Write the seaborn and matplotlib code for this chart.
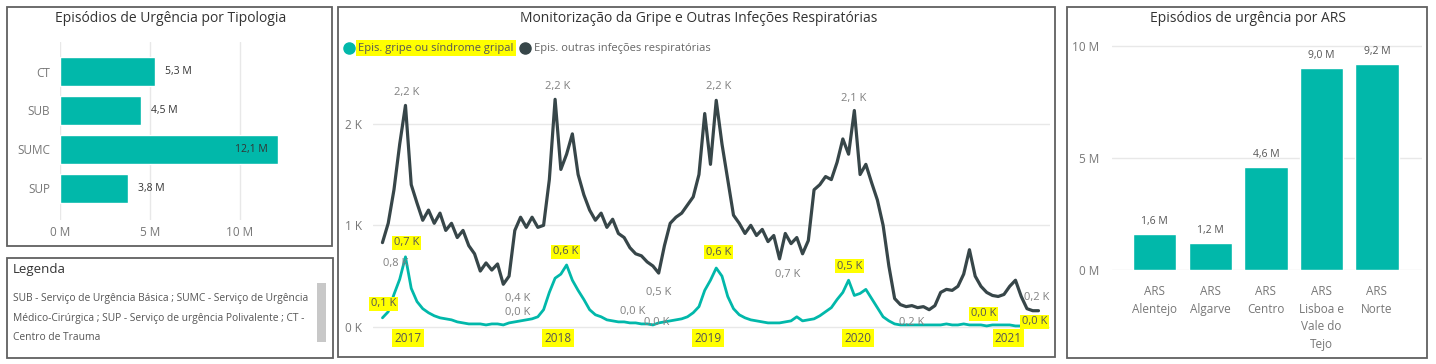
import numpy as np
import pandas as pd
import matplotlib
matplotlib.use("Agg")
import matplotlib.pyplot as plt
import seaborn as sns
from matplotlib.patches import Rectangle
from matplotlib.lines import Line2D

# ---------------- data ----------------
tipologia = ["CT", "SUB", "SUMC", "SUP"]
tipologia_m = [5.3, 4.5, 12.1, 3.8]
tipologia_ticks = [0, 5, 10]

ars = ["ARS\nAlentejo", "ARS\nAlgarve", "ARS\nCentro", "ARS\nLisboa e\nVale do\nTejo", "ARS\nNorte"]
ars_m = [1.6, 1.2, 4.6, 9.0, 9.2]
ars_ticks = [0, 5, 10]

# fortnightly values (thousands), starting 2016-10-31
series_start = "2016-10-31"
series_step = "14D"
other_2016_17 = [0.83, 1.02, 1.35, 1.80, 2.18, 1.40, 1.22, 1.05, 1.15, 1.02, 1.12, 0.95, 1.02,
                 0.88, 0.95, 0.80, 0.72, 0.55, 0.63, 0.56, 0.62, 0.42, 0.50, 0.95, 1.08, 0.98]
other_2017_18 = [1.08, 0.98, 1.00, 1.45, 2.24, 1.55, 1.70, 1.90, 1.50, 1.30, 1.15, 1.05, 1.12,
                 0.98, 1.06, 0.92, 0.88, 0.78, 0.72, 0.70, 0.64, 0.60, 0.53, 0.80, 1.02, 1.08]
other_2018_19 = [1.12, 1.20, 1.28, 1.50, 2.10, 1.60, 2.23, 1.80, 1.45, 1.10, 1.02, 0.92, 1.00,
                 0.90, 0.96, 0.84, 0.90, 0.67, 0.92, 0.82, 0.88, 0.72, 0.85, 1.35, 1.40, 1.48]
other_2019_20 = [1.45, 1.62, 1.85, 1.70, 2.13, 1.50, 1.60, 1.42, 1.25, 1.00, 0.60, 0.28, 0.22,
                 0.20, 0.21, 0.19, 0.20, 0.17, 0.21, 0.34, 0.37, 0.36, 0.40, 0.52, 0.76, 0.50]
other_2020_21 = [0.40, 0.34, 0.31, 0.30, 0.32, 0.40, 0.46, 0.30, 0.18, 0.16, 0.16]

flu_2016_17 = [0.09, 0.15, 0.32, 0.47, 0.69, 0.38, 0.25, 0.18, 0.14, 0.11, 0.09, 0.08, 0.07,
               0.05, 0.04, 0.03, 0.03, 0.03, 0.02, 0.03, 0.03, 0.02, 0.04, 0.05, 0.06, 0.07]
flu_2017_18 = [0.08, 0.10, 0.17, 0.34, 0.48, 0.52, 0.61, 0.46, 0.36, 0.27, 0.17, 0.12, 0.10,
               0.07, 0.06, 0.05, 0.05, 0.04, 0.04, 0.03, 0.03, 0.02, 0.04, 0.05, 0.06, 0.07]
flu_2018_19 = [0.08, 0.10, 0.14, 0.20, 0.36, 0.46, 0.58, 0.50, 0.30, 0.18, 0.12, 0.09, 0.07,
               0.06, 0.05, 0.04, 0.04, 0.04, 0.05, 0.06, 0.10, 0.06, 0.07, 0.08, 0.11, 0.15]
flu_2019_20 = [0.19, 0.27, 0.34, 0.46, 0.31, 0.33, 0.37, 0.28, 0.19, 0.10, 0.06, 0.03, 0.02,
               0.02, 0.02, 0.02, 0.02, 0.02, 0.02, 0.02, 0.03, 0.02, 0.02, 0.03, 0.02, 0.02]
flu_2020_21 = [0.02, 0.01, 0.02, 0.02, 0.02, 0.02, 0.01, 0.01, 0.01, 0.01, 0.01]

years = ["2017", "2018", "2019", "2020", "2021"]
mid_yticks = [0, 1, 2]

legend_lines = ["SUB - Serviço de Urgência Básica ; SUMC - Serviço de Urgência",
                "Médico-Cirúrgica ; SUP - Serviço de urgência Polivalente ; CT -",
                "Centro de Trauma"]

# ---------------- style ----------------
TEAL = "#01B8AA"
DARK = "#374649"
GRID = "#E8E8E8"
TICK = "#777777"
YEL = "#FFFF00"

sns.set_theme(style="white")
plt.rcParams['font.family'] = ['Open Sans', 'DejaVu Sans']

W, H = 1436, 364
fig = plt.figure(figsize=(W / 100, H / 100), dpi=100)
fig.patch.set_facecolor("white")


def px_axes(l, t, r, b):
    return fig.add_axes([l / W, 1 - b / H, (r - l) / W, (b - t) / H])


def ftext(x, y, s, **kw):
    return fig.text(x / W, 1 - y / H, s, **kw)


def fmt(v, unit):
    return f"{v:.1f} {unit}".replace(".", ",")


# panel frames
for (l, t, r, b) in [(7, 7, 332, 246), (7, 258, 333, 358), (338, 7, 1055, 357), (1067, 7, 1427, 358)]:
    fig.add_artist(Rectangle((l / W, 1 - b / H), (r - l) / W, (b - t) / H,
                             transform=fig.transFigure, fill=False, ec="#606060", lw=1.3))

# ---------------- left: tipologia ----------------
ax1 = px_axes(60, 42, 300, 220)
sns.barplot(x=tipologia_m, y=tipologia, orient="h", color=TEAL, saturation=1,
            width=0.75, ax=ax1)
ax1.set_xlim(0, 13.33)
ax1.set_ylim(3.82, -0.76)
ax1.set_xticks(tipologia_ticks)
ax1.set_xticklabels([f"{t} M" for t in tipologia_ticks])
ax1.xaxis.grid(True, color=GRID, lw=1)
ax1.yaxis.grid(False)
ax1.set_axisbelow(True)
for s in ax1.spines.values():
    s.set_visible(False)
ax1.tick_params(axis="x", length=0, pad=4, labelsize=8.5, labelcolor=TICK)
ax1.tick_params(axis="y", length=0, pad=7, labelsize=8.5, labelcolor=TICK)
ax1.set_xlabel("")
ax1.set_ylabel("")
for i, v in enumerate(tipologia_m):
    if v > 10:
        ax1.annotate(fmt(v, "M"), (v, i), xytext=(-7, 0), textcoords="offset points",
                     ha="right", va="center", fontsize=7.5, color="#333333")
    else:
        ax1.annotate(fmt(v, "M"), (v, i), xytext=(7, 0), textcoords="offset points",
                     ha="left", va="center", fontsize=7.5, color="#333333")
ftext(171, 18, "Episódios de Urgência por Tipologia", ha="center", va="center",
      fontsize=10, color="#333333")

# ---------------- legend box ----------------
ftext(13, 270, "Legenda", ha="left", va="center", fontsize=9.5, color="#333333")
for k, line in enumerate(legend_lines):
    ftext(13, 298 + 20 * k, line, ha="left", va="center", fontsize=7.4, color="#555555")
fig.add_artist(Rectangle((317 / W, 1 - 342 / H), 9 / W, 59 / H, transform=fig.transFigure,
                         fc="#C8C8C8", ec="none"))

# ---------------- middle: time series ----------------
other = other_2016_17 + other_2017_18 + other_2018_19 + other_2019_20 + other_2020_21
flu = flu_2016_17 + flu_2017_18 + flu_2018_19 + flu_2019_20 + flu_2020_21
dates = pd.date_range(series_start, periods=len(other), freq=series_step)
df = pd.DataFrame({"date": dates, "other": other, "flu": flu})

ax2 = px_axes(373, 80, 1050, 329)
sns.lineplot(data=df, x="date", y="other", color=DARK, lw=2.3, ax=ax2)
sns.lineplot(data=df, x="date", y="flu", color=TEAL, lw=2.0, ax=ax2)
ax2.set_xlim(pd.Timestamp("2016-10-08"), pd.Timestamp("2021-04-12"))
ax2.set_ylim(-0.02, 2.43)
ax2.set_yticks(mid_yticks)
ax2.set_yticklabels([f"{t} K" for t in mid_yticks])
ax2.set_xticks([pd.Timestamp(f"{y}-01-01") for y in years])
ax2.set_xticklabels(years)
ax2.yaxis.grid(True, color=GRID, lw=1)
ax2.xaxis.grid(False)
ax2.set_axisbelow(True)
for s in ax2.spines.values():
    s.set_visible(False)
ax2.tick_params(axis="y", length=0, pad=8, labelsize=8.5, labelcolor=TICK)
ax2.tick_params(axis="x", length=0, pad=2, labelsize=8.5, labelcolor="#555555")
for lbl in ax2.get_xticklabels():
    lbl.set_bbox(dict(boxstyle="square,pad=0.2", fc=YEL, ec="none"))
ax2.set_xlabel("")
ax2.set_ylabel("")

# data labels: (series, index, dx px, dy px, highlighted)
mid_labels = [
    ("other", 4, 1, 13, False), ("other", 0, 13, -21, False),
    ("flu", 0, 1, 14, True), ("flu", 4, 1, 14, True),
    ("other", 21, 14, -14, False), ("flu", 21, 14, 12, False),
    ("other", 30, 3, 13, False), ("flu", 32, -1, 13, True),
    ("other", 48, 0, -19, False), ("flu", 43, 3, 11, False), ("flu", 47, 4, 2, False),
    ("other", 58, 2, 14, False), ("flu", 58, 2, 16, True),
    ("other", 69, 8, -16, False),
    ("other", 82, -1, 12, False), ("flu", 81, 1, 14, True),
    ("other", 92, 0, -17, False), ("flu", 105, -3, 12, True),
    ("flu", 114, -4, 4, True), ("other", 114, -2, 13, False),
]
for key, idx, dx, dy, hl in mid_labels:
    v = df[key].iloc[idx]
    kw = dict(ha="center", va="center", fontsize=8, textcoords="offset points",
              xytext=(dx * 0.72, dy * 0.72))
    if hl:
        ax2.annotate(fmt(v, "K"), (df["date"].iloc[idx], v), color="#555555",
                     bbox=dict(boxstyle="square,pad=0.15", fc=YEL, ec="none"), **kw)
    else:
        ax2.annotate(fmt(v, "K"), (df["date"].iloc[idx], v), color="#808080", **kw)

ftext(699, 18, "Monitorização da Gripe e Outras Infeções Respiratórias", ha="center",
      va="center", fontsize=10, color="#333333")
# legend
fig.add_artist(Line2D([349 / W], [1 - 48 / H], marker="o", ms=8, color=TEAL, lw=0,
                      transform=fig.transFigure))
ftext(358, 48, "Epis. gripe ou síndrome gripal", ha="left", va="center", fontsize=8,
      color="#555555", bbox=dict(boxstyle="square,pad=0.2", fc=YEL, ec="none"))
fig.add_artist(Line2D([525 / W], [1 - 48 / H], marker="o", ms=8, color=DARK, lw=0,
                      transform=fig.transFigure))
ftext(534, 48, "Epis. outras infeções respiratórias", ha="left", va="center", fontsize=8,
      color="#666666")

# ---------------- right: ARS ----------------
ax3 = px_axes(1112, 40, 1422, 270)
sns.barplot(x=ars, y=ars_m, color=TEAL, saturation=1, width=0.78, ax=ax3)
ax3.set_xlim(-0.77, 4.81)
ax3.set_ylim(0, 10.27)
ax3.set_yticks(ars_ticks)
ax3.set_yticklabels([f"{t} M" for t in ars_ticks])
ax3.yaxis.grid(True, color=GRID, lw=1)
ax3.xaxis.grid(False)
ax3.set_axisbelow(True)
for s in ax3.spines.values():
    s.set_visible(False)
ax3.tick_params(axis="y", length=0, pad=9, labelsize=8.5, labelcolor=TICK)
ax3.tick_params(axis="x", length=0, pad=11, labelsize=8.5, labelcolor=TICK)
for lbl in ax3.get_xticklabels():
    lbl.set_linespacing(1.45)
    lbl.set_va("top")
ax3.set_xlabel("")
ax3.set_ylabel("")
for i, v in enumerate(ars_m):
    ax3.annotate(fmt(v, "M"), (i, v), xytext=(0, 9), textcoords="offset points",
                 ha="center", va="center", fontsize=7.5, color="#555555")
ftext(1248, 18, "Episódios de urgência por ARS", ha="center", va="center",
      fontsize=10, color="#333333")

fig.savefig("out.png", dpi=100)
